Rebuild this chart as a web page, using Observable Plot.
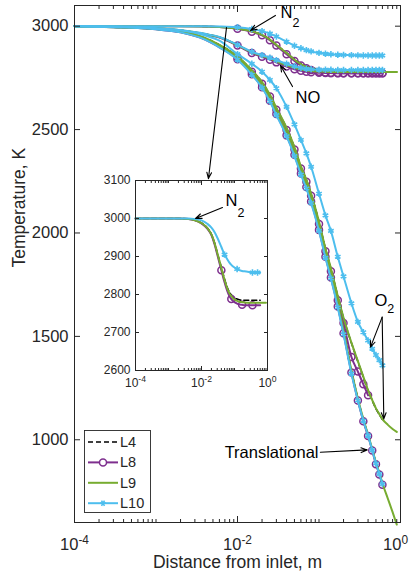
<!DOCTYPE html>
<html>
<head>
<meta charset="utf-8">
<script src="https://cdn.jsdelivr.net/npm/d3@7"></script>
<script src="https://cdn.jsdelivr.net/npm/@observablehq/plot@0.6"></script>
<style>
  html, body { margin: 0; padding: 0; background: #fff; }
  #wrap { position: relative; width: 412px; height: 583px; overflow: hidden; }
  #main { position: absolute; left: 0; top: 0; width: 412px; }
  #inset { position: absolute; left: 100px; top: 170px; width: 175px; height: 225px; }
</style>
</head>
<body>
<div id="wrap"><div id="main"></div><div id="inset"></div></div>
<script>
// ---------------- data (distance from inlet in m, temperatures in K) ----------------
const distance = [0.0001, 0.0003, 0.001, 0.002, 0.004, 0.006, 0.01, 0.015, 0.02, 0.025, 0.03, 0.04, 0.05, 0.06, 0.07, 0.08, 0.1, 0.12, 0.14, 0.17, 0.2, 0.25, 0.3, 0.35, 0.4, 0.45, 0.5, 0.55, 0.6, 0.7, 0.8, 0.9];

const models = ["L4", "L8", "L9", "L10"];
const modes = ["tr", "N2", "NO", "O2"];

// Translational temperature
const L4_tr  = [3000, 2995, 2986, 2972, 2937, 2901, 2844, 2773, 2713, 2648, 2583, 2483, 2388, 2298, 2233, 2163, 2028, 1898, 1798, 1658, 1528, 1333, 1198, 1098, 1023, 953, 888, 838, 789];
const L8_tr  = [3000, 2995, 2985, 2970, 2935, 2898, 2840, 2768, 2705, 2640, 2575, 2472, 2378, 2288, 2222, 2152, 2015, 1885, 1785, 1645, 1515, 1325, 1190, 1090, 1018, 948, 882, 832, 782];
const L9_tr  = [3000, 2995, 2986, 2972, 2938, 2902, 2845, 2775, 2715, 2650, 2585, 2485, 2390, 2300, 2235, 2165, 2030, 1900, 1800, 1660, 1530, 1335, 1200, 1100, 1025, 955, 890, 840, 790, 715, 650, 590];
const L10_tr = [3000, 2995, 2985, 2970, 2935, 2898, 2838, 2765, 2702, 2636, 2570, 2468, 2372, 2282, 2215, 2145, 2010, 1880, 1780, 1640, 1510, 1320, 1190, 1092, 1020, 950, 885, 835, 786];

// N2 vibrational temperature
const L4_N2  = [3000, 3000, 3000, 3000, 2999, 2996, 2988, 2975, 2958, 2935, 2910, 2871, 2840, 2819, 2806, 2799, 2791, 2788, 2786, 2785, 2785, 2785, 2785, 2785, 2785, 2785, 2785, 2785, 2785];
const L8_N2  = [3000, 3000, 3000, 3000, 2999, 2996, 2987, 2973, 2956, 2932, 2906, 2864, 2832, 2810, 2796, 2788, 2780, 2776, 2774, 2773, 2772, 2772, 2772, 2772, 2772, 2772, 2772, 2772, 2772];
const L9_N2  = [3000, 3000, 3000, 3000, 2999, 2996, 2988, 2975, 2958, 2935, 2910, 2870, 2838, 2817, 2803, 2796, 2787, 2783, 2781, 2780, 2779, 2778, 2778, 2778, 2778, 2778, 2778, 2778, 2778, 2778, 2778, 2778];
const L10_N2 = [3000, 3000, 3000, 3000, 3000, 2999, 2995, 2986, 2976, 2964, 2950, 2925, 2905, 2893, 2884, 2878, 2871, 2867, 2864, 2862, 2861, 2860, 2859, 2858, 2858, 2858, 2858, 2858, 2858];

// NO vibrational temperature
const L4_NO  = [3000, 2998, 2990, 2980, 2962, 2947, 2909, 2874, 2857, 2845, 2832, 2813, 2802, 2794, 2789, 2786, 2784, 2783, 2782, 2782, 2782, 2782, 2782, 2782, 2782, 2782, 2782, 2782, 2782];
const L8_NO  = [3000, 2998, 2990, 2979, 2961, 2945, 2906, 2870, 2852, 2838, 2825, 2805, 2792, 2784, 2780, 2777, 2775, 2774, 2773, 2772, 2772, 2772, 2772, 2772, 2772, 2772, 2772, 2772, 2772];
const L9_NO  = [3000, 2998, 2990, 2980, 2962, 2947, 2908, 2873, 2856, 2843, 2830, 2811, 2799, 2791, 2786, 2783, 2781, 2780, 2779, 2778, 2778, 2778, 2778, 2778, 2778, 2778, 2778, 2778, 2778, 2778, 2778, 2778];
const L10_NO = [3000, 2998, 2990, 2980, 2963, 2948, 2910, 2876, 2860, 2848, 2836, 2818, 2806, 2798, 2794, 2792, 2790, 2789, 2789, 2788, 2788, 2788, 2788, 2788, 2788, 2788, 2788, 2788, 2788];

// O2 vibrational temperature
const L4_O2  = [3000, 2996, 2988, 2975, 2942, 2909, 2854, 2786, 2729, 2667, 2604, 2507, 2414, 2321, 2257, 2189, 2054, 1924, 1829, 1694, 1588, 1468, 1378, 1303, 1238, 1190, 1150, 1122, 1098];
const L8_O2  = [3000, 2996, 2987, 2973, 2940, 2906, 2850, 2780, 2722, 2660, 2596, 2498, 2404, 2312, 2248, 2180, 2043, 1912, 1815, 1675, 1565, 1400, 1330, 1268, 1215];
const L9_O2  = [3000, 2996, 2988, 2975, 2943, 2910, 2855, 2787, 2730, 2668, 2605, 2508, 2415, 2322, 2258, 2190, 2055, 1925, 1830, 1695, 1590, 1470, 1380, 1305, 1240, 1192, 1152, 1124, 1100, 1072, 1052, 1038];
const L10_O2 = [3000, 2997, 2990, 2980, 2955, 2930, 2865, 2818, 2780, 2740, 2700, 2610, 2525, 2450, 2385, 2320, 2190, 2085, 2010, 1885, 1790, 1660, 1570, 1520, 1480, 1440, 1410, 1385, 1360];

// inset marker positions (distance, m)
const insetMarkersL8 = [0.04, 0.08, 0.17, 0.35];
const insetMarkersL10 = [0.05, 0.12, 0.35, 0.5];

// ticks
const xMajorTicks = [1e-4, 1e-2, 1];
const yTicks = [1000, 1500, 2000, 2500, 3000];
const insetYTicks = [2600, 2700, 2800, 2900, 3000, 3100];
const legendLabels = ["L4", "L8", "L9", "L10"];

// ---------------- build ----------------
const series = {
  L4:  {tr: L4_tr,  N2: L4_N2,  NO: L4_NO,  O2: L4_O2},
  L8:  {tr: L8_tr,  N2: L8_N2,  NO: L8_NO,  O2: L8_O2},
  L9:  {tr: L9_tr,  N2: L9_N2,  NO: L9_NO,  O2: L9_O2},
  L10: {tr: L10_tr, N2: L10_N2, NO: L10_NO, O2: L10_O2}
};
const rows = (model, mode) => series[model][mode].map((T, i) => ({model, mode, x: distance[i], T}));
const allRows = Object.fromEntries(models.map(m => [m, modes.flatMap(k => rows(m, k))]));

const colors = {L4: "#000000", L8: "#7E2F8E", L9: "#77AC30", L10: "#4DBEEE"};
const ink = "#262626";
const font = '"Liberation Sans", Arial, Helvetica, sans-serif';

const xMinorTicks = [];
for (let e = -4; e < 0; e++) for (let k = 2; k <= 9; k++) xMinorTicks.push(k * Math.pow(10, e));
xMinorTicks.push(1e-3, 1e-1);

function lineMark(data, m) {
  return Plot.line(data, {
    x: "x", y: "T", z: "mode", stroke: colors[m],
    strokeWidth: m === "L4" ? 1.6 : 2,
    strokeDasharray: m === "L4" ? "5,3" : null,
    curve: "monotone-x"
  });
}
function markerMark(data, m) {
  if (m === "L8") return Plot.dot(data, {x: "x", y: "T", symbol: "circle", r: 3.5, stroke: colors[m], strokeWidth: 1.5, fill: "none"});
  if (m === "L10") return Plot.dot(data, {x: "x", y: "T", symbol: "asterisk", r: 3, stroke: colors[m], strokeWidth: 1.6});
  return null;
}

const arrowsMain = [
  {x1: 0.0292, y1: 3052, x2: 0.01445, y2: 2979},   // N2
  {x1: 0.0473, y1: 2708, x2: 0.0337, y2: 2810},    // NO
  {x1: 0.00733, y1: 2993, x2: 0.0044, y2: 2263},   // to inset
  {x1: 0.596, y1: 1593, x2: 0.4285, y2: 1448},     // O2 L10
  {x1: 0.596, y1: 1593, x2: 0.624, y2: 1101},      // O2 L9
  {x1: 0.104, y1: 940, x2: 0.390, y2: 951}         // Translational
];
const notesMain = [
  {x: 0.0337, y: 3064, t: "N", s: 16.5, a: "start"},
  {x: 0.0473, y: 3015, t: "2", s: 12.5, a: "start"},
  {x: 0.0515, y: 2653, t: "NO", s: 16.5, a: "start"},
  {x: 0.48, y: 1673, t: "O", s: 16.5, a: "start"},
  {x: 0.69, y: 1630, t: "2", s: 12.5, a: "start"},
  {x: 0.0986, y: 938, t: "Translational", s: 16.5, a: "end"}
];

const mainMarks = [];
for (const m of models) {
  mainMarks.push(lineMark(allRows[m], m));
  const mk = markerMark(allRows[m].filter(d => d.x >= 0.01), m);
  if (mk) mainMarks.push(mk);
}

const main = Plot.plot({
  width: 412, height: 583,
  marginLeft: 74, marginRight: 12, marginTop: 5, marginBottom: 61,
  x: {type: "log", domain: [1e-4, 1]},
  y: {domain: [600, 3100]},
  style: {fontFamily: font, fontSize: "16.5px", color: ink, background: "white", overflow: "visible"},
  marks: [
    Plot.frame({fill: "white"}),
    ...mainMarks,
    Plot.frame({stroke: ink, strokeWidth: 1}),
    Plot.axisY(yTicks, {anchor: "left", tickSize: -6, tickPadding: 12, fontSize: 16.5, label: null, tickFormat: d => String(d)}),
    Plot.axisY(yTicks, {anchor: "right", tickSize: -6, tickFormat: () => "", label: null}),
    Plot.axisX(xMajorTicks, {anchor: "bottom", tickSize: -6, tickPadding: 22, fontSize: 16.5, label: null,
      tickFormat: d => "10^" + Math.round(Math.log10(d))}),
    Plot.axisX(xMinorTicks, {anchor: "bottom", tickSize: -3, tickFormat: () => "", label: null}),
    Plot.axisX(xMajorTicks, {anchor: "top", tickSize: -6, tickFormat: () => "", label: null}),
    Plot.axisX(xMinorTicks, {anchor: "top", tickSize: -3, tickFormat: () => "", label: null}),
    Plot.text(["Temperature, K"], {text: d => d, frameAnchor: "left", dx: -55.5, dy: 3.5, rotate: -90, fontSize: 17.5, fill: ink}),
    Plot.text(["Distance from inlet, m"], {text: d => d, frameAnchor: "bottom", dy: 45, fontSize: 17.5, fill: ink}),
    Plot.arrow(arrowsMain, {x1: "x1", y1: "y1", x2: "x2", y2: "y2", stroke: "black", strokeWidth: 1.1, headLength: 9, headAngle: 42}),
    ...notesMain.map(n => Plot.text([n], {x: "x", y: "y", text: "t", fontSize: n.s, textAnchor: n.a, fill: "black"}))
  ]
});

// ---------------- inset (N2 vibrational) ----------------
const insetMarks = [];
for (const m of models) {
  const d = rows(m, "N2");
  insetMarks.push(lineMark(d, m));
  if (m === "L8") insetMarks.push(markerMark(d.filter(r => insetMarkersL8.includes(r.x)), m));
  if (m === "L10") insetMarks.push(markerMark(d.filter(r => insetMarkersL10.includes(r.x)), m));
}
const arrowsInset = [{x1: 0.0432, y1: 3029, x2: 0.0066, y2: 3000}];
const notesInset = [
  {x: 0.0534, y: 3047, t: "N", s: 16.5},
  {x: 0.123, y: 3014, t: "2", s: 12.5}
];

const inset = Plot.plot({
  width: 175, height: 225,
  marginLeft: 35, marginRight: 8, marginTop: 10, marginBottom: 25,
  x: {type: "log", domain: [1e-4, 1]},
  y: {domain: [2600, 3100]},
  style: {fontFamily: font, fontSize: "12px", color: ink, background: "transparent", overflow: "visible"},
  marks: [
    Plot.frame({fill: "white"}),
    ...insetMarks,
    Plot.frame({stroke: ink, strokeWidth: 1}),
    Plot.axisY(insetYTicks, {anchor: "left", tickSize: -4, tickPadding: 9, fontSize: 12, label: null, tickFormat: d => String(d)}),
    Plot.axisY(insetYTicks, {anchor: "right", tickSize: -4, tickFormat: () => "", label: null}),
    Plot.axisX(xMajorTicks, {anchor: "bottom", tickSize: -4, tickPadding: 12, fontSize: 12, label: null,
      tickFormat: d => "10^" + Math.round(Math.log10(d))}),
    Plot.axisX(xMinorTicks, {anchor: "bottom", tickSize: -2, tickFormat: () => "", label: null}),
    Plot.axisX(xMajorTicks, {anchor: "top", tickSize: -4, tickFormat: () => "", label: null}),
    Plot.axisX(xMinorTicks, {anchor: "top", tickSize: -2, tickFormat: () => "", label: null}),
    Plot.arrow(arrowsInset, {x1: "x1", y1: "y1", x2: "x2", y2: "y2", stroke: "black", strokeWidth: 1.1, headLength: 9, headAngle: 42}),
    ...notesInset.map(n => Plot.text([n], {x: "x", y: "y", text: "t", fontSize: n.s, textAnchor: "start", fill: "black"}))
  ]
});

function superscriptTicks(svg, lastShift) {
  d3.select(svg).selectAll('g[aria-label="x-axis tick label"] text').each(function() {
    const s = this.textContent;
    const m = /^10\^(.+)$/.exec(s);
    if (!m) return;
    const t = d3.select(this);
    t.text(null);
    const base = t.append("tspan").text("10");
    if (m[1] === "0" && lastShift) base.attr("dx", -lastShift);
    t.append("tspan").attr("dy", "-0.55em").attr("font-size", "0.72em").text(m[1]);
  });
}
superscriptTicks(main, 5);
superscriptTicks(inset, 0);

// ---------------- legend ----------------
const lg = d3.select(main).append("g").attr("font-family", font).attr("font-size", 14.5).attr("text-anchor", "start");
lg.append("rect").attr("x", 84.5).attr("y", 430.5).attr("width", 66).attr("height", 82)
  .attr("fill", "white").attr("stroke", ink).attr("stroke-width", 0.9);
legendLabels.forEach((m, i) => {
  const y = 442 + i * 20.4;
  lg.append("line").attr("x1", 88).attr("x2", 118).attr("y1", y).attr("y2", y)
    .attr("stroke", colors[m]).attr("stroke-width", m === "L4" ? 1.6 : 2)
    .attr("stroke-dasharray", m === "L4" ? "5,3" : null);
  if (m === "L8") lg.append("circle").attr("cx", 103).attr("cy", y).attr("r", 3.5)
    .attr("fill", "white").attr("stroke", colors[m]).attr("stroke-width", 1.5);
  if (m === "L10") {
    const g = lg.append("g").attr("stroke", colors[m]).attr("stroke-width", 1.6);
    [[-3, 0, 3, 0], [-1.5, -2.6, 1.5, 2.6], [-1.5, 2.6, 1.5, -2.6]].forEach(([a, b, c, d]) =>
      g.append("line").attr("x1", 103 + a).attr("y1", y + b).attr("x2", 103 + c).attr("y2", y + d));
  }
  lg.append("text").attr("x", 120).attr("y", y).attr("dy", "0.35em").attr("fill", ink).attr("text-anchor", "start").text(m);
});

document.getElementById("main").appendChild(main);
document.getElementById("inset").appendChild(inset);
</script>
</body>
</html>
